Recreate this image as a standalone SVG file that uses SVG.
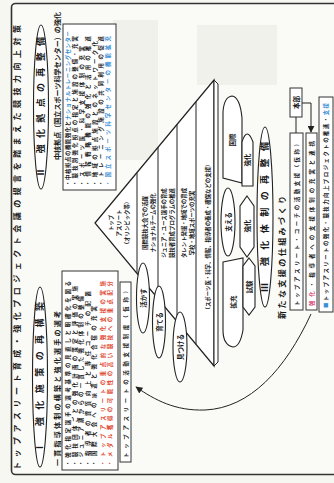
<svg xmlns="http://www.w3.org/2000/svg" width="334" height="483" viewBox="0 0 334 483">
<defs>
<marker id="ah" viewBox="0 0 10 10" refX="9" refY="5" markerWidth="7" markerHeight="7" orient="auto"><path d="M0,0 L10,5 L0,10 z" fill="#222"/></marker>
</defs>
<style>
text{font-family:"Noto Sans CJK JP","Noto Sans",sans-serif;fill:#1a1a1a}
.t{font-size:8px;font-weight:700}
.h{font-size:9px;font-weight:700}
.s{font-size:7px;font-weight:700}
.o{font-size:6.5px;font-weight:700}
.x{font-size:5.4px;font-weight:700}
.red{fill:#e0452e}
.blue{fill:#3b8fd6}
.ln{fill:none;stroke:#222;stroke-width:1}
.ov{fill:#fff;stroke:#222;stroke-width:1.1}
.bx{fill:#fff;stroke:#333;stroke-width:1}
.band{fill:#f1f1ec}
</style>
<rect x="0" y="0" width="334" height="483" fill="#f7f7f2"/>
<rect x="11.5" y="3.5" width="340" height="471" rx="4" fill="#fafaf6" stroke="#333" stroke-width="1.6"/>
<rect class="band" x="113" y="20" width="45" height="140"/>
<rect class="band" x="197" y="25" width="80" height="60"/>

<g id="title"><text class="t" textLength="445" lengthAdjust="spacing" transform="translate(20,470) rotate(-90)">トップアスリート育成・強化プロジェクト会議の提言を踏まえた競技力向上対策</text></g>

<g id="sec1">
<ellipse class="ov" cx="40" cy="377" rx="7.5" ry="90"/>
<text class="h" text-anchor="middle" textLength="150" lengthAdjust="spacing" transform="translate(43.4,377) rotate(-90)">Ⅰ 強化施策の再構築</text>
<text class="s" textLength="155" lengthAdjust="spacing" transform="translate(59.5,466) rotate(-90)">一貫指導体制の構築と強化選手の選考</text>
<rect class="bx" x="62" y="271" width="56" height="199"/>
<text class="x" textLength="185" lengthAdjust="spacing" transform="translate(70,466) rotate(-90)">・強化指定選手の選考基準の見直しと明確化を図る</text>
<text class="x" textLength="180" lengthAdjust="spacing" transform="translate(76.5,466) rotate(-90)">・競技団体ごとの強化計画の策定と評価の実施</text>
<text class="x" textLength="170" lengthAdjust="spacing" transform="translate(83,466) rotate(-90)">・ジュニア期からの一貫した強化体制の整備</text>
<text class="x" textLength="175" lengthAdjust="spacing" transform="translate(89.5,466) rotate(-90)">・指導者の資質向上と専任コーチの配置</text>
<text class="x" textLength="160" lengthAdjust="spacing" transform="translate(96,466) rotate(-90)">・国際大会への派遣と強化合宿の充実</text>
<text class="x red" textLength="185" lengthAdjust="spacing" transform="translate(104.5,466) rotate(-90)">・トップアスリートの重点的な強化支援の実施</text>
<text class="x red" textLength="185" lengthAdjust="spacing" transform="translate(111.5,466) rotate(-90)">・メダル獲得の可能性の高い競技への重点配分</text>
<rect class="bx" x="120" y="282" width="11" height="180"/>
<text class="x" textLength="170" lengthAdjust="spacing" transform="translate(128,458) rotate(-90)">トップアスリートの活動支援制度（仮称）</text>
</g>

<g id="sec2">
<ellipse class="ov" cx="41" cy="107" rx="7.5" ry="82"/>
<text class="h" text-anchor="middle" textLength="140" lengthAdjust="spacing" transform="translate(44.4,107) rotate(-90)">Ⅱ 強化拠点の再整備</text>
<text class="s" textLength="148" lengthAdjust="spacing" transform="translate(59.5,160) rotate(-90)">中核拠点（国立スポーツ科学センター）の強化</text>
<rect class="bx" x="63" y="24" width="53" height="166"/>
<text class="x" textLength="155" lengthAdjust="spacing" transform="translate(70,186) rotate(-90)">・中核拠点の機能強化と<tspan class="blue">ナショナルトレーニングセンター</tspan></text>
<text class="x" textLength="150" lengthAdjust="spacing" transform="translate(77,186) rotate(-90)">・競技別強化拠点の指定と施設の整備・充実</text>
<text class="x" textLength="140" lengthAdjust="spacing" transform="translate(83.5,186) rotate(-90)">・スポーツ医・科学支援体制の充実</text>
<text class="x" textLength="150" lengthAdjust="spacing" transform="translate(90,186) rotate(-90)">・情報戦略機能の強化と活用の推進</text>
<text class="x" textLength="145" lengthAdjust="spacing" transform="translate(96.5,186) rotate(-90)">・地域の拠点施設とのネットワーク化</text>
<text class="x" textLength="150" lengthAdjust="spacing" transform="translate(103,186) rotate(-90)">・トレーニング施設の共同利用の促進</text>
<text class="x blue" textLength="150" lengthAdjust="spacing" transform="translate(110,186) rotate(-90)">・国立スポーツ科学センターの機能拡充</text>
</g>

<g id="pyramid">
<polygon points="95,223 214,80 214,366" fill="#fff" stroke="#222" stroke-width="1.2"/>
<polygon points="214,80 218,84 218,362 214,366" fill="#fff" stroke="#222" stroke-width="1"/>
<line class="ln" x1="137" y1="173" x2="137" y2="273"/>
<line class="ln" x1="158" y1="147.4" x2="158" y2="298.6"/>
<line class="ln" x1="177" y1="124.6" x2="177" y2="321.4"/>
<line class="ln" x1="196" y1="101.8" x2="196" y2="344.2"/>
<text class="x" text-anchor="middle" transform="translate(113,223) rotate(-90)">トップ</text>
<text class="x" text-anchor="middle" transform="translate(121,223) rotate(-90)">アスリート</text>
<text class="x" text-anchor="middle" transform="translate(129,223) rotate(-90)">（オリンピック等）</text>
<text class="x" text-anchor="middle" transform="translate(147,223) rotate(-90)">国際競技大会での活躍</text>
<text class="x" text-anchor="middle" transform="translate(155,223) rotate(-90)">ナショナルチームの強化</text>
<text class="x" text-anchor="middle" transform="translate(166,223) rotate(-90)">ジュニア・ユース選手の育成</text>
<text class="x" text-anchor="middle" transform="translate(174,223) rotate(-90)">競技者育成プログラムの推進</text>
<text class="x" text-anchor="middle" transform="translate(186,223) rotate(-90)">タレント発掘・地域での育成</text>
<text class="x" text-anchor="middle" transform="translate(194,223) rotate(-90)">学校・地域スポーツの充実</text>
<text class="x" text-anchor="middle" transform="translate(210,237) rotate(-90)">（スポーツ医・科学、情報、指導者の養成・確保などの支援）</text>
</g>

<g id="ovals">
<ellipse class="ov" cx="143" cy="298" rx="6.5" ry="35"/>
<text class="o" text-anchor="middle" transform="translate(145.5,298) rotate(-90)">活かす</text>
<ellipse class="ov" cx="159" cy="322" rx="6.5" ry="36"/>
<text class="o" text-anchor="middle" transform="translate(161.5,322) rotate(-90)">育てる</text>
<ellipse class="ov" cx="180" cy="347" rx="7" ry="35"/>
<text class="o" text-anchor="middle" transform="translate(182.5,347) rotate(-90)">見つける</text>
</g>

<g id="shapes">
<path class="ov" d="M223,178 V112 Q224,97 232,96 Q240,97 242,118 V183 Z"/>
<text class="o" text-anchor="middle" transform="translate(235,140) rotate(-90)">国際</text>
<path class="ov" d="M242,186 V142 Q247,126 253,142 V186 Z"/>
<text class="o" text-anchor="middle" transform="translate(250,160) rotate(-90)">強化</text>
<ellipse class="ov" cx="228" cy="222" rx="7" ry="34"/>
<text class="o" text-anchor="middle" transform="translate(230.5,222) rotate(-90)">支える</text>
<polygon class="ov" points="247,196 254,206 254,247 247,257 240,247 240,206"/>
<text class="o" text-anchor="middle" transform="translate(249.5,226) rotate(-90)">強化</text>
<path class="ov" d="M223,262 L243,258 V330 Q240,347 233,347 Q223,345 223,330 Z"/>
<text class="o" text-anchor="middle" transform="translate(235.5,302) rotate(-90)">拡充</text>
<polygon class="ov" points="249,258 255,266 255,307 249,315 243,307 243,266"/>
<text class="o" text-anchor="middle" transform="translate(251.5,287) rotate(-90)">試験</text>
</g>

<g id="sec3">
<ellipse class="ov" cx="265" cy="217" rx="8" ry="90"/>
<text class="h" text-anchor="middle" textLength="150" lengthAdjust="spacing" transform="translate(268.4,217) rotate(-90)">Ⅲ 強化体制の再整備</text>
<text class="t" textLength="123" lengthAdjust="spacing" transform="translate(285,319) rotate(-90)">新たな支援の仕組みづくり</text>
</g>

<g id="box-s"><rect class="bx" x="290" y="88" width="12" height="29"/>
<text class="o" text-anchor="middle" transform="translate(298.5,102.5) rotate(-90)">本部</text></g>
<g id="box-a"><rect class="bx" x="290" y="133" width="13" height="177"/>
<text class="x" textLength="165" lengthAdjust="spacing" transform="translate(298.5,306) rotate(-90)">トップアスリート・コーチの活動支援（仮称）</text></g>
<g id="box-b"><rect class="bx" x="306" y="133" width="11" height="177"/>
<text class="x" textLength="165" lengthAdjust="spacing" transform="translate(313.5,306) rotate(-90)"><tspan fill="#d9487a">強化</tspan>・指導者への支援体制の充実と連携</text></g>
<g id="box-c"><rect class="bx" x="319" y="97" width="14" height="215"/>
<text class="x" textLength="205" lengthAdjust="spacing" transform="translate(328,308) rotate(-90)"><tspan class="blue">■</tspan>トップアスリートの強化・競技力向上プロジェクトの推進・<tspan class="blue">支援</tspan></text></g>

<g id="connectors">
<line class="ln" x1="296" y1="117" x2="296" y2="133"/>
<path class="ln" d="M302,103 H311 V132" marker-end="url(#ah)"/>
<path class="ln" stroke-width="1.2" d="M311,314 C285,370 250,408 205,410 C175,411 155,400 136,387" marker-end="url(#ah)"/>
</g>
</svg>
